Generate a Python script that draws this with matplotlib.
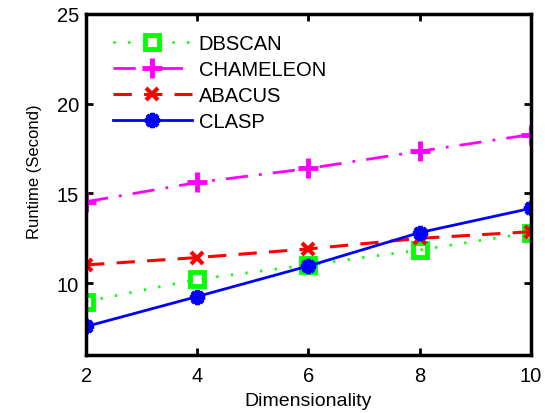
import numpy as np
import matplotlib
matplotlib.use('Agg')
from matplotlib import pyplot as plt

plt.rcParams['font.family'] = ['Liberation Sans', 'DejaVu Sans']

dims = [2, 4, 6, 8, 10]
dbscan = [8.98, 10.22, 11.02, 11.85, 12.82]
chameleon = [14.54, 15.61, 16.39, 17.35, 18.28]
abacus = [11.02, 11.43, 11.91, 12.5, 12.87]
clasp = [7.59, 9.26, 10.96, 12.82, 14.17]

fig = plt.figure(figsize=(5.45, 4.14), dpi=100)
ax = fig.add_axes([0.158, 0.140, 0.816, 0.824])

ax.plot(dims, dbscan, color='#00ff00', linestyle=':', linewidth=2, marker='s',
	markersize=10, markerfacecolor='none', markeredgewidth=3.5, label='DBSCAN',
	dashes=(0.8, 4.5))
ax.plot(dims, chameleon, color='#ff00ff', linestyle='-.', linewidth=2, marker='+',
	markersize=15, markeredgewidth=3.5, label='CHAMELEON', dashes=(8, 4, 1, 4))
ax.plot(dims, abacus, color='#ff0000', linestyle='--', linewidth=2.2, marker='x',
	markersize=9, markeredgewidth=3, label='ABACUS', dashes=(6, 4))
ax.plot(dims, clasp, color='#0000ff', linestyle='-', linewidth=2, marker=(8, 2, 0),
	markersize=11, markeredgewidth=3, label='CLASP')

ax.set_xlim(2, 10)
ax.set_ylim(6, 25)
ax.set_xticks(dims)
ax.set_yticks([10, 15, 20, 25])
ax.tick_params(direction='in', top=True, right=True, labelsize=14.5, length=5, width=2, pad=5)
ax.tick_params(axis='x', pad=8)
for s in ax.spines.values():
	s.set_linewidth(2.5)

ax.set_xlabel('Dimensionality', fontsize=14, labelpad=5)
ax.set_ylabel('Runtime (Second)', fontsize=12)
ax.yaxis.set_label_coords(-0.099, 0.54)

leg = ax.legend(loc='upper left', frameon=False, fontsize=14.5, handlelength=3.9,
	bbox_to_anchor=(0.02, 0.995), labelspacing=0.35, handletextpad=0.35)

fig.savefig('out.png', dpi=100)
